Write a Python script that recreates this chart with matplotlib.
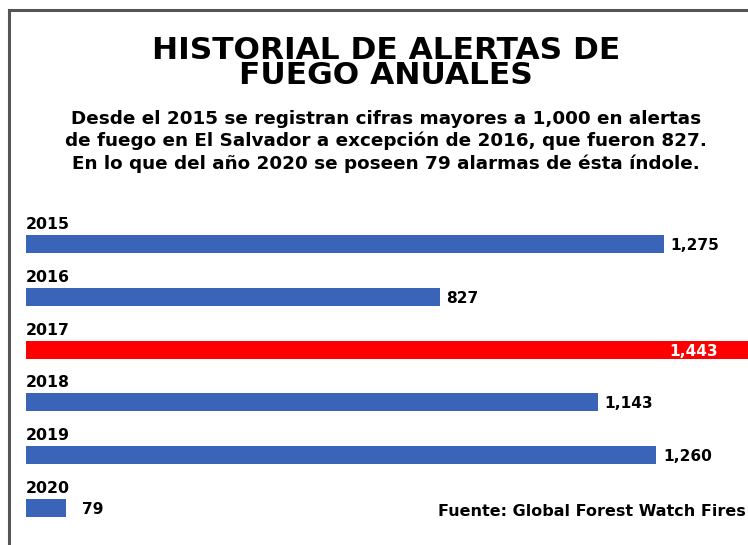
import matplotlib.pyplot as plt
import numpy as np

plt.rcParams['font.family'] = ['DejaVu Sans']

years = ["2015", "2016", "2017", "2018", "2019", "2020"]
alerts = [1275, 827, 1443, 1143, 1260, 79]
highlight = "2017"

title = "HISTORIAL DE ALERTAS DE\nFUEGO ANUALES"
subtitle = ("Desde el 2015 se registran cifras mayores a 1,000 en alertas\n"
            "de fuego en El Salvador a excepción de 2016, que fueron 827.\n"
            "En lo que del año 2020 se poseen 79 alarmas de ésta índole.")
source = "Fuente: Global Forest Watch Fires"

blue = "#3a64b8"
red = "#ff0000"

fig = plt.figure(figsize=(7.48, 5.45), dpi=100)
fig.patch.set_facecolor("white")

# frame lines (top and left) like the original graphic
fig.add_artist(plt.Line2D([9 / 748, 1.0], [1 - 10 / 545, 1 - 10 / 545],
                          color="#555555", lw=2.2, transform=fig.transFigure))
fig.add_artist(plt.Line2D([9 / 748, 9 / 748], [0, 1 - 10 / 545],
                          color="#555555", lw=2.2, transform=fig.transFigure))

fig.text(386 / 748, 1 - 63 / 545, title, ha="center", va="center",
         fontsize=22.5, fontweight="bold", linespacing=0.86)
fig.text(386 / 748, 1 - 141.5 / 545, subtitle, ha="center", va="center",
         fontsize=13.2, fontweight="bold", linespacing=1.3)

ax = fig.add_axes([26 / 748, 1 - 534.4 / 545, 722 / 748, 316.8 / 545])
y = np.arange(len(years))
colors = [red if yr == highlight else blue for yr in years]
ax.barh(y, alerts, height=0.34, color=colors)
ax.set_xlim(0, 1444)
ax.set_ylim(len(years) - 0.5, -0.5)
ax.axis("off")

for i, (yr, v) in enumerate(zip(years, alerts)):
    ax.text(0, i - 0.285, yr, ha="left", va="baseline",
            fontsize=11.3, fontweight="bold")
    if yr == highlight:
        ax.annotate(f"{v:,}", (v, i + 0.03), xytext=(-21, 0),
                    textcoords="offset points", ha="right", va="center",
                    fontsize=11.1, fontweight="bold", color="white")
    else:
        ax.annotate(f"{v:,}", (v, i + 0.03), xytext=(5 if v > 200 else 12, 0),
                    textcoords="offset points", ha="left", va="center",
                    fontsize=11.1, fontweight="bold")

fig.text(746 / 748, 1 - 511 / 545, source, ha="right", va="center",
         fontsize=11.5, fontweight="bold")

fig.savefig("out.png", dpi=100)
